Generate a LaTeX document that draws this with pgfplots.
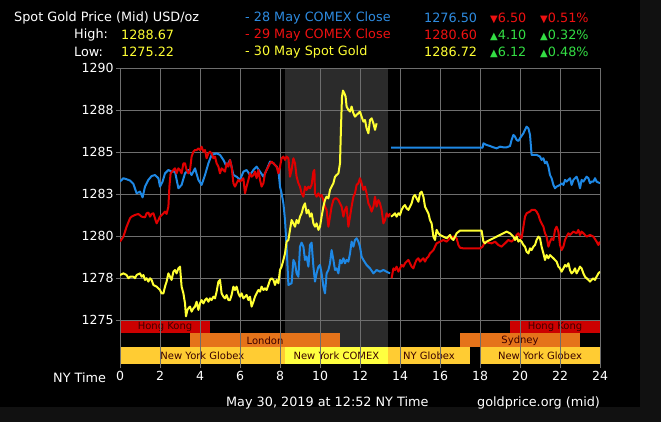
\documentclass[border=0pt]{standalone}
\usepackage{pgfplots}
\pgfplotsset{compat=1.18}
\usepackage{fontspec}
\setmainfont{DejaVu Sans}
\newfontfamily\symfont{DejaVu Sans}
\definecolor{outerbg}{HTML}{111111}
\definecolor{gridc}{HTML}{6E6E6E}
\definecolor{shade}{HTML}{2B2B2B}
\definecolor{lblue}{HTML}{1E88E5}
\definecolor{lred}{HTML}{E00000}
\definecolor{lyel}{HTML}{FFFF33}
\definecolor{hk}{HTML}{CC0000}
\definecolor{lon}{HTML}{E5731A}
\definecolor{nyg}{HTML}{FFCC33}
\definecolor{comex}{HTML}{FFFF40}
\definecolor{bandtxt}{HTML}{3A0000}
\definecolor{tgreen}{HTML}{33DD44}
\definecolor{tred}{HTML}{EE1111}
\definecolor{tblue}{HTML}{2E8BE0}
\newcommand{\dn}{{\symfont\fontsize{10}{10}\selectfont ▼}}
\newcommand{\up}{{\symfont\fontsize{10}{10}\selectfont ▲}}
\pgfplotsset{
  goldbase/.style={
    at={(120pt,58pt)}, anchor=south west,
    scale only axis, width=480pt, height=295.7pt,
    xmin=0, xmax=24, ymin=1272.38, ymax=1290,
    axis line style={draw=none},
  },
}
\tikzset{bandlbl/.style={text=bandtxt, font=\fontsize{10}{10}\selectfont, inner sep=0pt}}
\begin{document}
\begin{tikzpicture}[x=1pt,y=1pt,font=\fontsize{12.8}{14}\selectfont]
\useasboundingbox (0,0) rectangle (661,422);
\fill[outerbg] (0,0) rectangle (661,422);
\fill[black] (0,15) rectangle (640,422);
% header
\node[white,anchor=west,inner sep=0pt] at (14,404) {Spot Gold Price (Mid) USD/oz};
\node[white,anchor=west,inner sep=0pt] at (74,387) {High:};
\node[lyel,anchor=west,inner sep=0pt] at (121,387) {1288.67};
\node[white,anchor=west,inner sep=0pt] at (74,370) {Low:};
\node[lyel,anchor=west,inner sep=0pt] at (121,370) {1275.22};
\node[tblue,anchor=west,inner sep=0pt] at (245,404) {- 28 May COMEX Close};
\node[tblue,anchor=west,inner sep=0pt] at (424,404) {1276.50};
\node[tred,anchor=west,inner sep=0pt] at (490,404) {\dn6.50};
\node[tred,anchor=west,inner sep=0pt] at (540,404) {\dn0.51\%};
\node[tred,anchor=west,inner sep=0pt] at (245,387) {- 29 May COMEX Close};
\node[tred,anchor=west,inner sep=0pt] at (424,387) {1280.60};
\node[tgreen,anchor=west,inner sep=0pt] at (490,387) {\up4.10};
\node[tgreen,anchor=west,inner sep=0pt] at (540,387) {\up0.32\%};
\node[lyel,anchor=west,inner sep=0pt] at (245,370) {- 30 May Spot Gold};
\node[lyel,anchor=west,inner sep=0pt] at (424,370) {1286.72};
\node[tgreen,anchor=west,inner sep=0pt] at (490,370) {\up6.12};
\node[tgreen,anchor=west,inner sep=0pt] at (540,370) {\up0.48\%};
\node[white,anchor=west,inner sep=0pt] at (53,44) {NY Time};
\node[white,anchor=west,inner sep=0pt] at (226,19) {May 30, 2019 at 12:52 NY Time};
\node[white,anchor=west,inner sep=0pt] at (477,19) {goldprice.org (mid)};
% background axis: shaded period and session bands
\begin{axis}[goldbase, xtick=\empty, ytick=\empty]
\addplot[fill=shade, draw=none] coordinates {(8.25,1272.38) (13.4,1272.38) (13.4,1290) (8.25,1290)};
\addplot[fill=hk, draw=none] coordinates {(0,1274.2) (4.5,1274.2) (4.5,1275) (0,1275)};
\addplot[fill=hk, draw=none] coordinates {(19.5,1274.2) (24,1274.2) (24,1275) (19.5,1275)};
\addplot[fill=lon, draw=none] coordinates {(3.5,1273.38) (11,1273.38) (11,1274.2) (3.5,1274.2)};
\addplot[fill=lon, draw=none] coordinates {(17,1273.38) (23,1273.38) (23,1274.2) (17,1274.2)};
\addplot[fill=nyg, draw=none] coordinates {(0,1272.38) (8.25,1272.38) (8.25,1273.38) (0,1273.38)};
\addplot[fill=comex, draw=none] coordinates {(8.25,1272.38) (13.4,1272.38) (13.4,1273.38) (8.25,1273.38)};
\addplot[fill=nyg, draw=none] coordinates {(13.4,1272.38) (17.5,1272.38) (17.5,1273.38) (13.4,1273.38)};
\addplot[fill=nyg, draw=none] coordinates {(18,1272.38) (24,1272.38) (24,1273.38) (18,1273.38)};
\node[bandlbl] at (axis cs:2.25,1274.6) {Hong Kong};
\node[bandlbl] at (axis cs:21.75,1274.6) {Hong Kong};
\node[bandlbl] at (axis cs:7.25,1273.79) {London};
\node[bandlbl] at (axis cs:20,1273.79) {Sydney};
\node[bandlbl] at (axis cs:4.12,1272.88) {New York Globex};
\node[bandlbl] at (axis cs:10.82,1272.88) {New York COMEX};
\node[bandlbl] at (axis cs:15.45,1272.88) {NY Globex};
\node[bandlbl] at (axis cs:21,1272.88) {New York Globex};
\end{axis}
% main axis: grid, ticks, series
\begin{axis}[goldbase,
  grid=major, grid style={color=gridc, line width=1pt},
  xtick={0,2,...,24},
  ytick={1275,1277.5,1280,1282.5,1285,1287.5,1290},
  yticklabels={1275,1278,1280,1283,1285,1288,1290},
  tick pos=left, tick align=outside,
  major tick length=4pt,
  tick style={color=gridc, line width=1pt},
  ticklabel style={text=white, font=\fontsize{12.5}{13}\selectfont},
  yticklabel style={xshift=1pt},
  /pgf/number format/assume math mode=true,
]
% 28 May COMEX Close (blue)
\addplot[lblue, line width=2pt, line join=round] coordinates {
(0,1283.25) (0.17,1283.45) (0.33,1283.39) (0.5,1283.31) (0.67,1283.11) (0.83,1282.55) (1.0,1282.65) (1.13,1282.31) (1.25,1282.95) (1.42,1283.35) (1.58,1283.58) (1.75,1283.64) (1.92,1283.45) (2.0,1282.95) (2.13,1283.25) (2.25,1283.74) (2.42,1283.94) (2.58,1283.84) (2.75,1283.84) (2.92,1282.85) (3.08,1283.05) (3.25,1283.74) (3.42,1283.94) (3.58,1283.64) (3.75,1284.04) (3.92,1283.35) (4.08,1283.05) (4.25,1283.64) (4.42,1284.34) (4.58,1284.84) (4.83,1284.93) (5.0,1284.84) (5.17,1284.54) (5.33,1284.14) (5.5,1284.54) (5.67,1283.64) (5.83,1283.54) (6.0,1283.35) (6.17,1283.84) (6.33,1283.94) (6.5,1283.64) (6.67,1283.94) (6.83,1284.14) (7.0,1283.84) (7.17,1283.54) (7.33,1283.94) (7.5,1284.44) (7.67,1284.34) (7.83,1284.14) (7.92,1283.94) (8.0,1282.95) (8.08,1282.55) (8.17,1281.95) (8.25,1280.96) (8.33,1279.37) (8.42,1277.09) (8.58,1277.19) (8.67,1278.58) (8.75,1278.38) (8.83,1277.78) (8.92,1277.58) (9.0,1279.37) (9.08,1279.61) (9.17,1279.37) (9.25,1278.58) (9.33,1278.78) (9.42,1278.18) (9.5,1279.47) (9.58,1279.61) (9.67,1278.18) (9.75,1277.29) (9.83,1277.78) (9.92,1278.18) (10.0,1278.28) (10.08,1277.78) (10.17,1276.99) (10.25,1276.59) (10.33,1277.78) (10.42,1277.98) (10.5,1278.38) (10.58,1279.17) (10.67,1278.58) (10.75,1277.98) (10.83,1278.08) (10.92,1277.78) (11.0,1278.58) (11.08,1278.38) (11.17,1278.68) (11.25,1278.38) (11.33,1278.58) (11.42,1278.48) (11.5,1278.97) (11.58,1279.67) (11.67,1279.37) (11.75,1279.77) (11.83,1279.87) (11.92,1279.67) (12.0,1279.37) (12.08,1278.78) (12.17,1278.58) (12.33,1278.28) (12.5,1278.08) (12.67,1277.78) (12.83,1277.98) (13.0,1277.88) (13.17,1277.98) (13.33,1277.88) (13.5,1277.78)
};
\addplot[lblue, line width=2pt, line join=round] coordinates {
(13.55,1285.27) (18.13,1285.27) (18.17,1285.53) (18.33,1285.43) (18.5,1285.37) (18.67,1285.29) (18.83,1285.23) (19.0,1285.33) (19.17,1285.29) (19.33,1285.29) (19.5,1285.37) (19.58,1285.73) (19.67,1286.03) (19.75,1285.93) (19.83,1285.73) (19.92,1285.67) (20.0,1285.83) (20.17,1286.13) (20.25,1286.33) (20.33,1286.52) (20.42,1286.42) (20.5,1286.03) (20.58,1284.84) (20.67,1284.84) (20.83,1284.84) (21.0,1284.74) (21.08,1284.54) (21.17,1284.64) (21.25,1284.34) (21.33,1284.44) (21.42,1284.14) (21.5,1283.64) (21.58,1283.45) (21.67,1283.05) (21.75,1282.85) (21.83,1282.95) (22.0,1283.05) (22.08,1283.15) (22.17,1283.05) (22.25,1283.35) (22.33,1283.25) (22.5,1283.45) (22.58,1283.05) (22.67,1283.35) (22.83,1283.54) (22.92,1283.25) (23.0,1282.85) (23.08,1283.35) (23.17,1283.25) (23.33,1283.54) (23.42,1283.45) (23.5,1283.15) (23.58,1283.25) (23.67,1283.25) (23.75,1283.45) (23.83,1283.25) (24.0,1283.15)
};
% 29 May COMEX Close (red)
\addplot[lred, line width=2pt, line join=round] coordinates {
(0,1279.67) (0.17,1279.97) (0.33,1280.56) (0.5,1281.06) (0.58,1281.16) (0.75,1281.26) (0.92,1281.32) (1.08,1281.16) (1.25,1281.12) (1.33,1281.36) (1.42,1281.40) (1.5,1281.16) (1.58,1281.32) (1.67,1281.36) (1.75,1281.06) (1.83,1280.76) (1.92,1280.96) (2.0,1281.16) (2.17,1281.36) (2.25,1281.46) (2.33,1281.32) (2.42,1281.76) (2.47,1282.95) (2.53,1283.74) (2.67,1283.94) (2.75,1284.04) (2.83,1283.74) (2.92,1284.04) (3.0,1283.94) (3.08,1283.74) (3.17,1284.34) (3.25,1284.34) (3.33,1283.94) (3.42,1283.74) (3.5,1283.94) (3.58,1284.74) (3.67,1285.03) (3.75,1285.13) (3.83,1285.13) (3.92,1285.23) (4.0,1285.13) (4.08,1285.33) (4.17,1285.03) (4.25,1285.13) (4.33,1284.64) (4.42,1284.93) (4.5,1285.03) (4.58,1284.93) (4.67,1284.64) (4.75,1284.74) (4.83,1284.34) (4.92,1284.14) (5.0,1283.74) (5.08,1284.04) (5.17,1283.94) (5.25,1283.84) (5.33,1284.34) (5.42,1284.14) (5.5,1284.54) (5.58,1284.14) (5.67,1283.15) (5.75,1282.95) (5.83,1283.15) (5.92,1283.35) (6.0,1283.25) (6.17,1283.45) (6.25,1282.55) (6.33,1282.95) (6.42,1283.35) (6.5,1283.74) (6.58,1283.54) (6.67,1283.64) (6.75,1283.84) (6.83,1283.45) (6.92,1283.94) (7.0,1283.35) (7.08,1282.95) (7.17,1283.15) (7.25,1283.74) (7.33,1283.94) (7.42,1284.14) (7.5,1284.34) (7.58,1284.44) (7.67,1284.34) (7.83,1284.14) (7.92,1283.74) (8.0,1284.14) (8.08,1284.64) (8.17,1284.74) (8.25,1284.54) (8.33,1284.74) (8.42,1284.64) (8.5,1283.54) (8.58,1283.94) (8.67,1284.64) (8.75,1284.34) (8.83,1283.54) (8.92,1283.15) (9.0,1282.95) (9.08,1282.55) (9.17,1282.35) (9.25,1282.95) (9.33,1282.75) (9.42,1282.95) (9.5,1282.85) (9.58,1283.05) (9.67,1283.84) (9.72,1283.94) (9.75,1282.55) (9.83,1282.35) (9.92,1282.55) (10.0,1282.35) (10.08,1282.45) (10.17,1282.15) (10.25,1281.76) (10.33,1281.56) (10.42,1280.56) (10.5,1281.16) (10.58,1281.76) (10.67,1282.15) (10.75,1282.25) (10.83,1282.25) (10.92,1282.15) (11.0,1281.95) (11.08,1281.76) (11.17,1281.16) (11.25,1281.56) (11.33,1281.76) (11.42,1280.56) (11.5,1281.16) (11.58,1281.76) (11.67,1282.35) (11.75,1282.55) (11.83,1283.05) (11.92,1283.15) (12.0,1283.45) (12.08,1283.15) (12.17,1282.75) (12.25,1282.95) (12.33,1282.55) (12.42,1281.95) (12.5,1281.76) (12.58,1281.46) (12.67,1281.76) (12.75,1282.35) (12.83,1281.76) (12.92,1282.15) (13.0,1281.95) (13.08,1281.56) (13.17,1280.76) (13.25,1280.96) (13.33,1281.36) (13.42,1281.16) (13.5,1281.36)
};
\addplot[lred, line width=2pt, line join=round] coordinates {
(13.58,1277.49) (13.67,1278.08) (13.75,1277.98) (13.83,1278.18) (13.92,1277.88) (14.0,1278.08) (14.08,1278.28) (14.17,1278.18) (14.25,1278.38) (14.33,1278.48) (14.42,1278.58) (14.5,1278.38) (14.58,1278.18) (14.67,1278.08) (14.75,1278.38) (14.83,1278.58) (14.92,1278.68) (15.0,1278.48) (15.08,1278.58) (15.17,1278.68) (15.25,1278.48) (15.33,1278.68) (15.42,1278.78) (15.5,1278.97) (15.67,1279.17) (15.83,1279.57) (16.0,1279.67) (16.17,1279.77) (16.33,1279.67) (16.5,1279.87) (16.67,1279.97) (16.83,1279.87) (16.92,1279.47) (17.0,1279.31) (17.17,1279.27) (18.0,1279.27) (18.13,1279.37) (18.25,1279.67) (18.42,1279.61) (18.58,1279.57) (18.75,1279.67) (18.92,1279.47) (19.08,1279.37) (19.25,1279.57) (19.42,1279.77) (19.58,1279.67) (19.75,1279.87) (19.83,1280.07) (19.92,1280.17) (20.0,1279.97) (20.08,1279.87) (20.17,1280.56) (20.25,1281.16) (20.33,1281.36) (20.5,1281.46) (20.58,1281.56) (20.75,1281.56) (20.83,1281.46) (20.92,1281.26) (21.0,1280.96) (21.08,1280.76) (21.17,1280.56) (21.25,1280.17) (21.33,1279.97) (21.42,1279.37) (21.5,1279.67) (21.58,1279.87) (21.67,1279.77) (21.75,1280.37) (21.83,1280.56) (21.92,1280.27) (22.0,1279.47) (22.08,1279.17) (22.17,1279.37) (22.25,1279.77) (22.33,1279.97) (22.42,1280.17) (22.5,1280.07) (22.67,1280.27) (22.83,1280.17) (22.92,1280.37) (23.0,1280.07) (23.08,1280.27) (23.17,1280.17) (23.33,1279.97) (23.5,1280.07) (23.67,1279.97) (23.83,1279.67) (23.92,1279.47) (24.0,1279.67)
};
% 30 May Spot Gold (yellow)
\addplot[lyel, line width=2pt, line join=round] coordinates {
(0,1277.68) (0.17,1277.78) (0.33,1277.68) (0.42,1277.49) (0.5,1277.58) (0.67,1277.58) (0.75,1277.49) (0.83,1277.68) (1.0,1277.78) (1.08,1277.58) (1.17,1277.68) (1.25,1277.39) (1.33,1277.49) (1.42,1277.29) (1.5,1277.49) (1.58,1277.39) (1.67,1277.09) (1.83,1276.99) (2.0,1276.79) (2.08,1276.59) (2.17,1276.59) (2.25,1276.99) (2.33,1277.29) (2.42,1277.78) (2.5,1277.58) (2.58,1277.39) (2.67,1277.88) (2.75,1277.98) (2.83,1277.78) (2.92,1278.08) (3.0,1278.18) (3.08,1276.99) (3.17,1276.59) (3.25,1275.99) (3.3,1275.22) (3.37,1275.60) (3.42,1275.70) (3.5,1275.80) (3.58,1275.50) (3.67,1275.70) (3.75,1275.80) (3.83,1276.09) (3.92,1275.60) (4.0,1275.99) (4.08,1276.19) (4.17,1275.99) (4.25,1276.19) (4.33,1276.29) (4.42,1276.09) (4.5,1276.29) (4.58,1276.19) (4.67,1276.39) (4.75,1276.29) (4.83,1276.69) (4.92,1277.29) (5.0,1277.39) (5.08,1276.59) (5.17,1276.39) (5.25,1276.29) (5.33,1276.49) (5.42,1276.19) (5.5,1276.19) (5.58,1276.49) (5.67,1276.99) (5.75,1276.79) (5.83,1276.99) (5.92,1276.59) (6.0,1276.39) (6.08,1276.59) (6.17,1276.29) (6.25,1276.39) (6.33,1276.49) (6.42,1276.19) (6.5,1276.39) (6.58,1275.80) (6.67,1276.09) (6.75,1276.39) (6.83,1276.59) (6.92,1276.79) (7.0,1276.69) (7.08,1276.99) (7.17,1276.79) (7.25,1276.89) (7.33,1276.79) (7.42,1277.09) (7.5,1277.39) (7.58,1277.49) (7.67,1277.39) (7.75,1277.09) (7.83,1277.39) (7.92,1277.19) (8.0,1277.98) (8.08,1278.18) (8.17,1278.58) (8.25,1278.97) (8.33,1279.67) (8.42,1279.77) (8.5,1280.37) (8.58,1280.96) (8.67,1280.76) (8.75,1280.56) (8.83,1280.96) (8.92,1280.76) (9.0,1281.16) (9.08,1281.36) (9.17,1281.76) (9.25,1281.95) (9.33,1281.36) (9.42,1281.56) (9.5,1281.16) (9.58,1281.36) (9.67,1280.76) (9.75,1280.56) (9.83,1280.76) (9.92,1280.37) (10.0,1280.56) (10.08,1281.16) (10.17,1281.76) (10.25,1282.15) (10.33,1282.35) (10.42,1282.25) (10.5,1282.75) (10.58,1282.95) (10.67,1283.15) (10.75,1283.54) (10.83,1283.64) (10.92,1283.74) (11.0,1284.34) (11.05,1286.52) (11.1,1288.31) (11.15,1288.67) (11.22,1288.51) (11.28,1288.31) (11.33,1287.72) (11.42,1287.52) (11.5,1287.42) (11.58,1287.72) (11.67,1287.32) (11.75,1287.12) (11.83,1287.22) (11.92,1287.32) (12.0,1287.42) (12.08,1287.12) (12.17,1286.82) (12.25,1286.92) (12.33,1286.42) (12.42,1286.13) (12.5,1286.92) (12.58,1287.02) (12.67,1286.72) (12.75,1286.33) (12.83,1286.72)
};
\addplot[lyel, line width=2pt, line join=round] coordinates {
(13.55,1281.16) (13.67,1281.26) (13.75,1281.36) (13.83,1281.16) (13.92,1281.36) (14.0,1281.26) (14.08,1281.56) (14.17,1281.76) (14.25,1281.85) (14.33,1281.66) (14.42,1281.56) (14.5,1281.76) (14.58,1281.95) (14.67,1282.35) (14.75,1282.45) (14.83,1282.25) (14.92,1282.05) (15.0,1282.55) (15.08,1282.65) (15.17,1282.35) (15.25,1281.76) (15.33,1281.56) (15.42,1281.36) (15.5,1280.96) (15.58,1280.76) (15.67,1279.97) (15.75,1279.77) (15.83,1280.37) (15.92,1280.17) (16.0,1280.07) (16.17,1279.97) (16.33,1279.87) (16.5,1280.07) (16.58,1279.87) (16.67,1279.77) (16.75,1279.97) (16.83,1280.17) (17.0,1280.33) (18.08,1280.33) (18.17,1279.67) (18.25,1279.57) (18.33,1279.67) (18.5,1279.77) (18.67,1279.87) (18.83,1279.97) (19.0,1280.07) (19.17,1280.17) (19.33,1280.27) (19.5,1280.17) (19.58,1280.07) (19.67,1279.97) (19.75,1279.77) (19.83,1279.97) (19.92,1279.67) (20.0,1279.77) (20.08,1279.67) (20.17,1279.47) (20.25,1279.37) (20.33,1279.07) (20.42,1278.97) (20.5,1279.27) (20.58,1279.17) (20.67,1279.37) (20.75,1279.47) (20.83,1279.77) (20.92,1279.97) (21.0,1279.87) (21.08,1279.37) (21.17,1278.97) (21.25,1278.58) (21.33,1278.87) (21.42,1278.68) (21.5,1278.87) (21.58,1278.78) (21.67,1278.68) (21.75,1278.58) (21.83,1278.48) (21.92,1278.18) (22.0,1278.08) (22.08,1277.88) (22.17,1278.08) (22.25,1278.28) (22.33,1278.18) (22.42,1278.38) (22.5,1277.98) (22.58,1277.78) (22.67,1277.88) (22.75,1278.08) (22.83,1277.78) (22.92,1277.98) (23.0,1278.18) (23.08,1278.08) (23.17,1277.78) (23.25,1277.58) (23.33,1277.49) (23.42,1277.39) (23.5,1277.29) (23.58,1277.39) (23.67,1277.49) (23.75,1277.39) (23.83,1277.58) (23.92,1277.78) (24.0,1277.88)
};
\end{axis}
\end{tikzpicture}
\end{document}
